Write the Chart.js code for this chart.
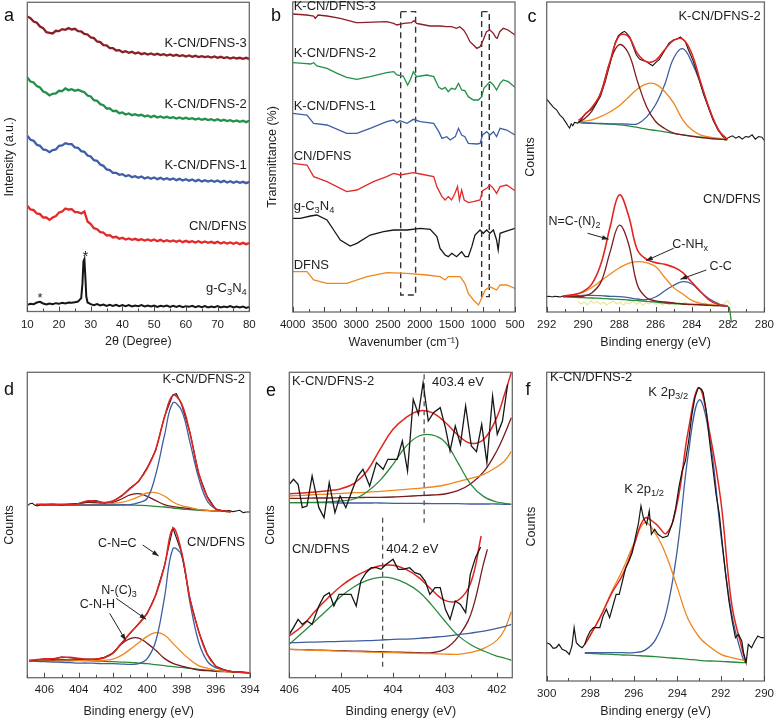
<!DOCTYPE html>
<html>
<head>
<meta charset="utf-8">
<script src="https://cdn.jsdelivr.net/npm/chart.js@4.4.1/dist/chart.umd.min.js"></script>
<style>
  html, body { margin: 0; padding: 0; background: #fff; }
  #wrap { position: relative; width: 780px; height: 722px; }
  #wrap canvas { position: absolute; left: 0; top: 0; }
</style>
</head>
<body>
<div id="wrap">
  <canvas id="ca" width="780" height="722"></canvas>
  <canvas id="cb" width="780" height="722"></canvas>
  <canvas id="cc" width="780" height="722"></canvas>
  <canvas id="cd" width="780" height="722"></canvas>
  <canvas id="ce" width="780" height="722"></canvas>
  <canvas id="cf" width="780" height="722"></canvas>
</div>
<script>
// ---- a: XRD ----
const xrdAngle = [10,11,12,13,14,15,16,17,18,19,20,21,22,23,24,25,26,27,28,29,30,31,32,33,34,35,36,37,38,39,40,41,42,43,44,45,46,47,48,49,50,51,52,53,54,55,56,57,58,59,60,61,62,63,64,65,66,67,68,69,70,71,72,73,74,75,76,77,78,79,80];
const xrdKcn3 = [885,880,870,866,855,850,838,836,834,842,841,847,845,850,846,848,841,840,833,831,822,820,810,808,799,798,790,790,783,784,778,781,776,779,774,777,772,775,771,774,770,773,769,772,768,771,767,770,766,769,765,768,764,767,763,766,763,765,762,765,761,764,760,763,759,762,759,761,758,761,758];
const xrdKcn2 = [702,690,687,676,672,660,656,648,653,654,662,661,669,664,667,662,665,661,658,648,645,634,632,622,619,609,609,601,602,595,597,591,594,589,592,588,590,585,588,583,587,582,585,581,584,580,583,579,582,578,581,577,580,576,579,575,578,574,577,573,577,572,575,571,574,570,573,569,572,568,572];
const xrdKcn1 = [527,515,512,500,497,486,484,478,484,486,497,498,505,502,502,492,491,481,479,468,465,454,452,441,437,426,424,416,416,410,412,406,409,403,406,401,405,399,403,398,402,397,401,396,400,395,399,394,398,393,397,392,396,391,395,390,394,390,393,389,393,388,392,387,391,386,390,386,389,385,389];
const xrdCn = [317,306,304,294,292,282,282,275,282,286,297,300,309,306,307,298,298,294,300,270,262,250,247,238,237,228,229,222,224,218,221,216,219,215,218,214,217,213,216,212,216,211,215,210,214,210,213,209,213,208,212,208,211,207,211,206,210,206,209,205,209,204,208,204,207,203,207,202,206,202,205];
const gcnAngle = [10,11,12,13,14,15,16,17,18,19,20,21,22,23,24,25,26,27,27.4,27.7,28,28.3,28.6,29,30,31,32,33,34,35,36,37,38,39,40,41,42,43,44,45,46,47,48,49,50,51,52,53,54,55,56,57,58,59,60,61,62,63,64,65,66,67,68,69,70,71,72,73,74,75,76,77,78,79,80];
const xrdGcn = [20,23,22,27,29,24,21,24,22,25,23,26,24,27,26,28,30,40,85,150,157,105,45,27,22,19,22,18,21,17,20,17,20,16,19,16,19,15,18,16,19,15,18,15,18,14,17,15,18,14,17,14,17,13,16,14,17,13,16,13,16,12,15,13,16,12,15,13,16,12,15,12,15,11,14];

// ---- b: FTIR ----
const irKcn3W = [4000,3780,3670,3645,3600,3460,3250,3000,2940,2520,2410,2360,2250,2130,2090,2050,2000,1840,1680,1580,1500,1420,1370,1310,1260,1210,1100,1050,1000,950,895,840,805,780,740,685,610,500];
const irKcn3T = [894,891,888,881,891,888,881,868,868,871,866,861,866,868,874,866,864,858,858,856,856,851,856,846,831,811,791,796,816,841,846,836,824,821,841,851,846,831];
const irKcn2W = [4000,3830,3720,3670,3620,3460,3300,3150,2990,2780,2520,2410,2360,2260,2190,2150,2100,2050,1890,1780,1700,1650,1600,1550,1500,1440,1390,1340,1290,1235,1155,1075,1025,990,895,840,790,735,685,605,500];
const irKcn2T = [748,746,744,748,738,731,716,704,698,706,718,721,711,708,681,696,721,706,711,706,674,668,674,661,671,668,686,666,664,646,636,636,646,671,691,681,666,686,696,691,674];
const irKcn1W = [4000,3775,3670,3460,3150,2990,2780,2520,2410,2360,2310,2200,2100,1990,1780,1700,1650,1575,1520,1440,1390,1340,1290,1235,1100,1050,1010,945,895,840,790,735,630,500];
const irKcn1T = [596,591,566,561,536,536,551,571,576,568,574,566,578,571,566,541,521,526,516,526,551,531,526,506,504,506,531,541,531,541,526,551,546,531];
const irCnW = [4000,3775,3670,3460,3150,2990,2730,2520,2410,2310,2100,1990,1780,1730,1650,1600,1550,1500,1445,1405,1375,1340,1300,1235,1155,1050,1010,945,895,840,790,735,630,500];
const irCnT = [446,441,406,391,361,366,391,406,416,411,418,414,406,376,346,336,346,336,356,376,336,366,336,328,331,336,364,371,381,371,356,376,381,364];
const irGcnW = [4000,3880,3720,3620,3460,3355,3250,3095,2990,2780,2570,2410,2200,1990,1835,1730,1680,1600,1550,1495,1420,1340,1285,1235,1180,1130,1050,1000,945,895,840,790,765,735,660,500];
const irGcnT = [281,281,288,291,276,246,216,198,206,231,241,246,246,251,248,226,191,171,166,176,166,181,166,166,196,231,246,236,246,236,246,216,186,236,241,251];
const irDfnsW = [4000,3775,3670,3460,3150,2830,2520,2200,1890,1680,1600,1550,1365,1290,1235,1155,1075,1025,970,895,840,790,735,630,500];
const irDfnsT = [121,121,96,86,86,106,118,116,111,106,96,106,106,86,56,36,21,41,66,76,71,66,81,81,71];
const box1W = [2300,2065,2065,2300,2300];
const box1T = [901,901,51,51,901];
const box2W = [1025,905,905,1025,1025];
const box2T = [901,901,46,46,901];

// ---- c: C 1s ----
const c2RawE = [292.0,291.82,291.64,291.46,291.28,291.1,290.92,290.83,290.74,290.65,290.56,290.47,290.29,290.11,289.84,289.57,289.31,289.04,288.77,288.5,288.23,288.05,287.87,287.72,287.6,287.42,287.24,287.06,286.88,286.7,286.52,286.34,286.16,285.98,285.8,285.53,285.26,285.0,284.81,284.63,284.51,284.37,284.19,283.92,283.65,283.38,283.11,282.84,282.57,282.3,282.12,281.94,281.76,281.58,281.4,281.22,281.04,280.86,280.68,280.5,280.32,280.14,280.0];
const c2Raw = [638,626,614,606,591,581,566,558,551,564,558,568,566,576,596,606,621,646,691,746,806,828,836,841,836,824,796,771,758,754,751,744,738,748,756,781,806,816,818,824,818,811,786,751,706,656,616,576,546,526,518,524,528,521,526,518,526,524,531,518,526,524,514];
const c2E = [290.25,290,289.5,289,288.5,288,287.5,287,286.5,286,285.5,285,284.5,284,283.5,283,282.5,282.05];
const c2Fit = [574,586,614,658,753,828,826,775,750,754,786,814,818,774,686,604,543,517];
const c2NC = [569,576,603,661,751,801,776,692,616,571,550,536,531,526,523,520,518,516];
const c2NH = [568,571,576,586,600,618,643,668,684,683,661,626,576,546,530,524,520,516];
const c2CC = [568,567,566,565,564,564,563,564,584,621,681,761,789,748,681,603,544,517];
const c2Base = [568,567,565,564,563,561,558,553,548,544,540,535,531,527,524,521,518,516];
const c1RawE = [292,291.85,291.7,291.55,291.4,291.25,291.1];
const c1Raw = [46,47,45,47,46,45,48];
const c1E = [291.1,290.5,290,289.5,289,288.5,288,287.5,287,286.5,286,285.5,285,284.5,284,283.5,283,282.5,282.05];
const c1Fit = [48,52,61,85,146,256,351,291,186,158,148,143,134,118,89,60,34,22,18];
const c1NC = [46,47,47,58,91,181,260,206,81,43,33,30,27,24,23,22,20,19,18];
const c1NH = [46,52,59,74,94,114,132,146,151,148,136,104,73,54,35,26,22,20,18];
const c1CC = [46,48,50,50,49,47,46,43,39,37,45,63,80,91,84,59,38,24,18];
const c1Base = [46,44,43,42,41,39,38,36,34,32,30,27,25,24,22,21,20,19,18];
const c1DropE = [282.05,281.92,281.82];
const c1Drop = [18,12,-32];
const c1NoiseE = [290.29,290.11,289.93,289.75,289.57,289.4,289.22,289.04,288.86,288.68,288.5,288.32,288.14,287.96,287.78,287.6,287.42,287.24,287.06,286.88,286.7,286.52,286.34,286.16,285.98,285.8,285.62,285.44,285.26,285.08,284.9,284.72,284.55,284.37,284.19,284.01,283.83,283.65,283.47,283.29,283.11,282.93,282.75,282.57,282.39,282.21,282.03,281.85];
const c1Noise = [31,24,30,21,34,26,32,23,30,21,28,33,24,30,21,28,24,32,23,29,20,28,24,31,22,29,20,27,23,30,21,28,23,30,20,27,16,31,21,28,18,26,24,31,18,26,34,21];

// ---- d: N 1s ----
const d2RawE = [406.95,406.85,406.7,406.55,406.4,406.2,406,405.5,405,404.5,404,403.5,403,402.5,402,401.5,401,400.5,400,399.5,399,398.5,398.3,398,397.5,397,396.5,396,395.5,395.2,395,394.8,394.6,394.4,394.2,394.0];
const d2Raw = [515,520,521,515,513,518,517,519,516,519,521,527,529,522,528,542,567,586,628,680,780,847,850,818,733,610,542,503,497,499,496,498,500,493,495,495];
const d2E = [406.5,406,405.5,405,404.5,404,403.5,403,402.5,402,401.5,401,400.5,400,399.5,399,398.5,398,397.5,397,396.5,396,395.5,395.1];
const d2Fit = [518,518,518,518,518,520,528,527,523,528,544,565,588,626,683,778,845,820,730,613,540,505,498,496];
const d2CNC = [516,516,516,516,516,516,516,516,516,516,517,517,523,536,608,723,822,800,703,598,528,504,498,496];
const d2NC3 = [516,516,516,517,517,517,517,518,519,521,524,531,541,552,553,543,525,514,508,502,500,498,497,496];
const d2CNH = [516,516,516,517,518,519,524,523,520,524,534,546,550,542,529,517,511,508,505,502,500,498,497,496];
const d2Base = [516,516,516,516,516,516,516,516,516,516,516,516,515,514,512,510,507,504,502,500,499,498,497,496];
const d1E = [406.9,406.5,406,405.5,405,404.5,404,403.5,403,402.5,402,401.5,401,400.5,400,399.5,399,398.5,398,397.5,397,396.5,396,395.5,395,394.5,394];
const d1Raw = [49,51,55,53,60,58,55,54,53,59,71,102,131,160,190,247,333,447,374,234,137,69,32,22,15,15,12];
const d1Fit = [50,52,54,55,59,59,56,53,54,58,72,101,132,159,192,246,331,446,376,233,138,68,33,21,16,14,13];
const d1CNC = [48,47,46,45,44,43,42,42,41,40,40,39,38,40,55,108,236,385,365,222,106,48,28,21,16,14,13];
const d1NC3 = [48,48,48,48,48,48,49,49,49,50,54,65,83,103,122,133,126,101,75,52,34,27,20,17,15,14,13];
const d1CNH = [48,48,49,50,51,51,52,52,53,58,73,99,115,117,101,80,56,41,33,27,21,19,17,16,15,14,13];
const d1Base = [48,49,50,51,52,51,50,49,48,47,46,45,44,42,40,37,34,31,29,26,23,21,19,18,16,14,13];

// ---- e: N 1s, high energy side ----
const e2RawE = [406.0,405.92,405.83,405.75,405.66,405.56,405.43,405.33,405.23,405.12,405.02,404.91,404.78,404.68,404.58,404.45,404.32,404.19,404.1,404.0,403.92,403.82,403.72,403.61,403.51,403.42,403.32,403.22,403.09,402.99,402.9,402.8,402.7,402.6,402.49,402.39,402.29,402.19,402.08,401.99,401.89,401.79];
const e2Raw = [578,593,578,508,513,603,508,478,583,493,543,508,563,603,623,573,643,623,653,653,653,708,618,833,788,883,768,793,808,748,678,753,698,813,693,676,758,643,843,728,768,878];
const eE = [406,405.75,405.5,405.25,405,404.75,404.5,404.25,404,403.75,403.5,403.25,403,402.75,402.5,402.25,402,401.85,401.72];
const e2Fit = [550,552,555,559,565,581,618,683,743,778,798,793,765,726,701,713,778,848,913];
const e2Peak = [523,523,524,525,528,534,556,590,638,692,723,726,705,643,578,541,525,521,518];
const e2Orange = [543,545,547,549,551,553,554,557,560,563,566,570,576,586,596,608,630,648,676];
const e2Brown = [536,536,537,537,538,538,539,539,540,542,544,546,549,559,580,616,678,728,778];
const e2Blue = [523,523,523,523,522,522,522,522,521,521,521,520,520,520,519,519,519,518,518];
const e1RawE = [406.0,405.92,405.83,405.75,405.66,405.56,405.43,405.33,405.23,405.14,405.04,404.91,404.81,404.71,404.62,404.52,404.42,404.32,404.23,404.13,404.0,403.9,403.81,403.68,403.58,403.48,403.38,403.29,403.19,403.09,402.99,402.9,402.8,402.7,402.6,402.51,402.41,402.31];
const e1Raw = [128,148,173,158,168,158,213,243,253,213,248,248,248,213,288,313,328,328,323,338,353,323,323,328,313,308,288,248,268,268,203,173,228,218,193,308,358,390];
const e1FitE = [406,405.75,405.5,405.25,405,404.75,404.5,404.25,404,403.75,403.5,403.25,403,402.75,402.5,402.3];
const e1Fit = [123,153,198,238,273,300,320,334,335,323,298,261,230,230,283,423];
const e1Peak = [98,133,168,204,242,271,290,299,296,281,256,215,168,125,97,78,63,57,50];
const e1Blue = [103,104,105,106,107,108,109,111,113,114,116,119,122,127,132,138,146,151,158];
const e1Orange = [83,82,80,79,78,76,75,74,73,72,71,70,69,68,74,86,110,142,196];
const e1BrownE = [406,405.75,405.5,405.25,405,404.75,404.5,404.25,404,403.75,403.5,403.25,403,402.75,402.5,402.25,402.18];
const e1Brown = [83,82,81,80,79,78,77,76,75,74,73,73,84,120,188,343,383];
const eMark2E = [403.4,403.4];
const eMark2Y = [908,463];
const eMark1E = [404.2,404.2];
const eMark1Y = [478,28];

// ---- f: K 2p ----
const fRawE = [300,299.85,299.7,299.56,299.44,299.29,299.11,298.96,298.84,298.74,298.64,298.49,298.37,298.25,298.15,298,297.85,297.7,297.56,297.41,297.26,297.11,296.96,296.81,296.67,296.52,296.37,296.22,296.07,295.93,295.78,295.67,295.56,295.41,295.29,295.19,295.04,294.89,294.67,294.44,294.22,294.07,293.93,293.78,293.63,293.48,293.33,293.19,293.04,292.89,292.81,292.67,292.52,292.37,292.22,292.07,291.93,291.78,291.63,291.48,291.33,291.19,291.04,290.96,290.84,290.74,290.59,290.44,290.3,290.15,290];
const fRaw = [115,110,98,100,110,95,90,80,105,160,115,105,100,110,130,150,160,160,160,195,215,190,225,260,260,300,340,360,385,430,475,525,490,470,510,440,455,440,430,435,475,520,580,630,660,720,800,850,880,875,865,810,720,640,560,500,410,320,240,180,130,140,120,85,55,110,100,120,135,130,130];
const fE = [298.25,298,297.5,297,296.5,296,295.5,295,294.5,294,293.5,293,292.5,292,291.5,291,290.85];
const fFit = [110,137,197,265,320,405,488,472,443,535,750,880,740,540,230,90,55];
const f2p12 = [110,137,197,270,335,412,475,442,375,280,185,132,102,80,70,63,62];
const f2p32 = [85,85,85,85,85,85,92,124,208,395,680,843,725,440,200,70,55];
const fBase = [83,83,81,80,78,77,75,73,70,68,65,62,60,59,57,55,55];

const FONT = "'Liberation Sans', Arial, Helvetica, sans-serif";
const INK = '#1e1e1e';
const COL = {
  black: '#161616', red: '#e1241f', brown: '#7c1b1d', orange: '#f0871d',
  blue: '#3f5e9f', green: '#2a8a3c', yellow: 'rgba(228,220,110,0.75)', dark: '#444'
};

function pts(xs, ys) {
  return xs.map((x, i) => ({ x: x, y: ys[i] }));
}

function line(xs, ys, color, width, extra) {
  return Object.assign({
    data: pts(xs, ys),
    borderColor: color,
    borderWidth: width || 1.2,
    pointRadius: 0,
    fill: false,
    tension: 0
  }, extra || {});
}

function smooth(xs, ys, color, width) {
  return line(xs, ys, color, width || 1.3, { tension: 0.4 });
}

function drawRich(ctx, parts, x, y, size, align, color) {
  let w = 0;
  parts.forEach(p => {
    ctx.font = (p[1] ? size * 0.72 : size) + 'px ' + FONT;
    w += ctx.measureText(p[0]).width;
  });
  let cx = align === 'right' ? x - w : (align === 'center' ? x - w / 2 : x);
  ctx.fillStyle = color;
  ctx.textBaseline = 'middle';
  ctx.textAlign = 'left';
  parts.forEach(p => {
    const s = p[1] ? size * 0.72 : size;
    ctx.font = s + 'px ' + FONT;
    const dy = p[1] === 1 ? size * 0.3 : (p[1] === 2 ? -size * 0.35 : 0);
    ctx.fillText(p[0], cx, y + dy);
    cx += ctx.measureText(p[0]).width;
  });
}

// frame, inward ticks, labels, arrows
const decor = {
  id: 'decor',
  afterDraw(chart, args, o) {
    const ctx = chart.ctx;
    const a = chart.chartArea;
    const sx = chart.scales.x, sy = chart.scales.y;
    ctx.save();
    ctx.strokeStyle = '#6a6a6a';
    ctx.lineWidth = 1.3;
    ctx.strokeRect(a.left, a.top, a.right - a.left, a.bottom - a.top);

    ctx.strokeStyle = '#4a4a4a';
    ctx.lineWidth = 1;
    ctx.beginPath();
    const n = Math.round((o.tickTo - o.tickFrom) / o.minor);
    for (let i = 0; i <= n; i++) {
      const px = Math.round(sx.getPixelForValue(o.tickFrom + i * o.minor)) + 0.5;
      const len = i % o.every === 0 ? 5 : 3;
      ctx.moveTo(px, a.bottom);
      ctx.lineTo(px, a.bottom - len);
    }
    ctx.stroke();

    (o.arrows || []).forEach(ar => {
      const x1 = sx.getPixelForValue(ar[0]), y1 = sy.getPixelForValue(ar[1]);
      const x2 = sx.getPixelForValue(ar[2]), y2 = sy.getPixelForValue(ar[3]);
      const ang = Math.atan2(y2 - y1, x2 - x1);
      ctx.strokeStyle = '#222';
      ctx.fillStyle = '#222';
      ctx.lineWidth = 1;
      ctx.beginPath();
      ctx.moveTo(x1, y1);
      ctx.lineTo(x2, y2);
      ctx.stroke();
      ctx.beginPath();
      ctx.moveTo(x2, y2);
      ctx.lineTo(x2 - 7 * Math.cos(ang - 0.35), y2 - 7 * Math.sin(ang - 0.35));
      ctx.lineTo(x2 - 7 * Math.cos(ang + 0.35), y2 - 7 * Math.sin(ang + 0.35));
      ctx.closePath();
      ctx.fill();
    });

    (o.texts || []).forEach(t => {
      drawRich(ctx, t.s, sx.getPixelForValue(t.x), sy.getPixelForValue(t.y),
        t.size || 13, t.align || 'left', INK);
    });

    if (o.letter) {
      drawRich(ctx, [[o.letter[0], 0]], o.letter[1], o.letter[2], 18, 'center', '#111');
    }
    ctx.restore();
  }
};

function panel(id, o) {
  return new Chart(document.getElementById(id), {
    type: 'line',
    data: { datasets: o.datasets },
    options: {
      responsive: false,
      animation: false,
      events: [],
      layout: { padding: o.pad },
      plugins: {
        legend: { display: false },
        tooltip: { enabled: false },
        decor: o.decor
      },
      scales: {
        x: {
          type: 'linear',
          min: o.xMin,
          max: o.xMax,
          reverse: !!o.reverse,
          ticks: {
            stepSize: o.step,
            includeBounds: false,
            autoSkip: false,
            maxRotation: 0,
            padding: o.tickPad,
            color: INK,
            font: { family: FONT, size: 11.5 },
            callback: v => String(v)
          },
          grid: { display: false, drawTicks: false },
          border: { display: false },
          title: { display: true, text: o.xTitle, color: INK, font: { family: FONT, size: 12.5 }, padding: 0 },
          afterFit: s => { s.height = o.xH; }
        },
        y: {
          min: o.yMin || 0,
          max: o.yMax,
          ticks: { display: false },
          grid: { display: false, drawTicks: false },
          border: { display: false },
          title: { display: true, text: o.yTitle, color: INK, font: { family: FONT, size: 12.5 }, padding: 0 },
          afterFit: s => { s.width = o.yW; }
        }
      }
    },
    plugins: [decor]
  });
}

// a
panel('ca', {
  pad: { left: 2.5, right: 530.7, top: 2.3, bottom: 372.5 },
  yW: 24.8, xH: 38, tickPad: 6,
  xMin: 10, xMax: 80, step: 10, yMax: 927.5,
  xTitle: '2\u03b8 (Degree)', yTitle: 'Intensity (a.u.)',
  datasets: [
    line(xrdAngle, xrdKcn3, '#8a1f27', 2.3),
    line(xrdAngle, xrdKcn2, '#22904a', 2.3),
    line(xrdAngle, xrdKcn1, '#3f5ea8', 2.3),
    line(xrdAngle, xrdCn, '#e22a2a', 2.3),
    line(gcnAngle, xrdGcn, COL.black, 2)
  ],
  decor: {
    tickFrom: 10, tickTo: 80, minor: 5, every: 2, letter: ['a', 9, 16],
    texts: [
      { x: 79.2, y: 805, s: [['K-CN/DFNS-3', 0]], align: 'right' },
      { x: 79.2, y: 620, s: [['K-CN/DFNS-2', 0]], align: 'right' },
      { x: 79.2, y: 438, s: [['K-CN/DFNS-1', 0]], align: 'right' },
      { x: 79.2, y: 255, s: [['CN/DFNS', 0]], align: 'right' },
      { x: 79.2, y: 68, s: [['g-C', 0], ['3', 1], ['N', 0], ['4', 1]], align: 'right' },
      { x: 28.3, y: 164, s: [['*', 0]], align: 'center', size: 15 },
      { x: 14, y: 38, s: [['*', 0]], align: 'center', size: 13 }
    ]
  }
});

// b
panel('cb', {
  pad: { left: 264.8, right: 265, top: 2, bottom: 372 },
  yW: 27.9, xH: 38, tickPad: 6,
  xMin: 500, xMax: 4000, step: 500, reverse: true, yMax: 930,
  xTitle: 'Wavenumber (cm\u207b\u00b9)', yTitle: 'Transmittance (%)',
  datasets: [
    line(irKcn3W, irKcn3T, '#8a1f27', 1.3),
    line(irKcn2W, irKcn2T, '#22904a', 1.3),
    line(irKcn1W, irKcn1T, '#3f5ea8', 1.3),
    line(irCnW, irCnT, '#e22a2a', 1.3),
    line(irGcnW, irGcnT, COL.black, 1.3),
    line(irDfnsW, irDfnsT, COL.orange, 1.3),
    line(box1W, box1T, '#333', 1.4, { borderDash: [6, 4] }),
    line(box2W, box2T, '#333', 1.4, { borderDash: [6, 4] })
  ],
  decor: {
    tickFrom: 500, tickTo: 4000, minor: 250, every: 2, letter: ['b', 276, 16],
    texts: [
      { x: 3985, y: 918, s: [['K-CN/DFNS-3', 0]] },
      { x: 3985, y: 776, s: [['K-CN/DFNS-2', 0]] },
      { x: 3985, y: 616, s: [['K-CN/DFNS-1', 0]] },
      { x: 3985, y: 466, s: [['CN/DFNS', 0]] },
      { x: 3985, y: 316, s: [['g-C', 0], ['3', 1], ['N', 0], ['4', 1]] },
      { x: 3985, y: 141, s: [['DFNS', 0]] }
    ]
  }
});

// c
panel('cc', {
  pad: { left: 523.5, right: 11.7, top: 2, bottom: 372 },
  yW: 23.2, xH: 38, tickPad: 6,
  xMin: 280, xMax: 292, step: 2, reverse: true, yMax: 929,
  xTitle: 'Binding energy (eV)', yTitle: 'Counts',
  datasets: [
    smooth(c2E, c2Fit, COL.red, 1.6),
    line(c2RawE, c2Raw, COL.black, 1.1),
    smooth(c2E, c2NC, COL.brown),
    smooth(c2E, c2NH, COL.orange),
    smooth(c2E, c2CC, COL.blue),
    smooth(c2E, c2Base, COL.green),
    smooth(c1E, c1Fit, COL.red, 1.6),
    line(c1RawE, c1Raw, COL.black, 1.1),
    smooth(c1E, c1NC, COL.brown),
    smooth(c1E, c1NH, COL.orange),
    smooth(c1E, c1CC, COL.blue),
    smooth(c1E, c1Base, COL.green),
    line(c1DropE, c1Drop, COL.green, 1.3, { clip: false }),
    line(c1NoiseE, c1Noise, COL.yellow, 1.1)
  ],
  decor: {
    tickFrom: 280, tickTo: 292, minor: 1, every: 2, letter: ['c', 532, 17],
    texts: [
      { x: 280.2, y: 886, s: [['K-CN/DFNS-2', 0]], align: 'right' },
      { x: 280.2, y: 336, s: [['CN/DFNS', 0]], align: 'right' },
      { x: 291.9, y: 271, s: [['N=C-(N)', 0], ['2', 1]], size: 12.5 },
      { x: 285.08, y: 201, s: [['C-NH', 0], ['x', 1]], size: 12.5 },
      { x: 283.02, y: 136, s: [['C-C', 0]], size: 12.5 }
    ],
    arrows: [
      [289.75, 236, 288.59, 218],
      [285.0, 191, 286.52, 154],
      [283.2, 126, 284.63, 98]
    ]
  }
});

// d
panel('cd', {
  pad: { left: 2.5, right: 530, top: 372.3, bottom: 2.5 },
  yW: 24.8, xH: 41.8, tickPad: 5,
  xMin: 394, xMax: 407, step: 2, reverse: true, yMin: -2, yMax: 914,
  xTitle: 'Binding energy (eV)', yTitle: 'Counts',
  datasets: [
    smooth(d2E, d2Fit, COL.red, 1.6),
    line(d2RawE, d2Raw, COL.black, 1.1),
    smooth(d2E, d2CNC, COL.blue),
    smooth(d2E, d2NC3, COL.orange),
    smooth(d2E, d2CNH, COL.brown),
    smooth(d2E, d2Base, COL.green),
    smooth(d1E, d1Fit, COL.red, 1.6),
    line(d1E, d1Raw, COL.black, 1.1),
    smooth(d1E, d1CNC, COL.blue),
    smooth(d1E, d1NC3, COL.orange),
    smooth(d1E, d1CNH, COL.brown),
    smooth(d1E, d1Base, COL.green)
  ],
  decor: {
    tickFrom: 394, tickTo: 407, minor: 1, every: 2, letter: ['d', 9, 390],
    texts: [
      { x: 394.3, y: 893, s: [['K-CN/DFNS-2', 0]], align: 'right' },
      { x: 394.3, y: 403, s: [['CN/DFNS', 0]], align: 'right' },
      { x: 402.87, y: 400, s: [['C-N=C', 0]], size: 12.5 },
      { x: 402.68, y: 260, s: [['N-(C)', 0], ['3', 1]], size: 12.5 },
      { x: 403.94, y: 218, s: [['C-N-H', 0]], size: 12.5 }
    ],
    arrows: [
      [400.26, 396, 399.33, 363],
      [401.81, 236, 400.06, 173],
      [402.19, 191, 401.26, 110]
    ]
  }
});

// e
panel('ce', {
  pad: { left: 263, right: 267.7, top: 372.3, bottom: 2.5 },
  yW: 26.3, xH: 41.8, tickPad: 5,
  xMin: 401.7, xMax: 406, step: 1, reverse: true, yMin: -2, yMax: 914,
  xTitle: 'Binding energy (eV)', yTitle: 'Counts',
  datasets: [
    line(e2RawE, e2Raw, COL.black, 1.3),
    smooth(eE, e2Fit, COL.red, 1.5),
    smooth(eE, e2Peak, COL.green),
    smooth(eE, e2Orange, COL.orange),
    smooth(eE, e2Brown, COL.brown),
    smooth(eE, e2Blue, COL.blue),
    line(e1RawE, e1Raw, COL.black, 1.3),
    smooth(e1FitE, e1Fit, COL.red, 1.5),
    smooth(eE, e1Peak, COL.green),
    smooth(eE, e1Blue, COL.blue),
    smooth(eE, e1Orange, COL.orange),
    smooth(e1BrownE, e1Brown, COL.brown),
    line(eMark2E, eMark2Y, COL.dark, 1.2, { borderDash: [5, 4] }),
    line(eMark1E, eMark1Y, COL.dark, 1.2, { borderDash: [5, 4] })
  ],
  decor: {
    tickFrom: 402, tickTo: 406, minor: 0.5, every: 2, letter: ['e', 271, 391],
    texts: [
      { x: 405.95, y: 888, s: [['K-CN/DFNS-2', 0]] },
      { x: 403.25, y: 883, s: [['403.4 eV', 0]] },
      { x: 405.95, y: 383, s: [['CN/DFNS', 0]] },
      { x: 404.13, y: 383, s: [['404.2 eV', 0]] }
    ]
  }
});

// f
panel('cf', {
  pad: { left: 524.5, right: 11.7, top: 372.3, bottom: 2.8 },
  yW: 22.2, xH: 38.2, tickPad: 6,
  xMin: 290, xMax: 300, step: 2, reverse: true, yMax: 926,
  xTitle: 'Binding energy (eV)', yTitle: 'Counts',
  datasets: [
    line(fRawE, fRaw, COL.black, 1.2),
    smooth(fE, fFit, COL.red, 1.5),
    smooth(fE, f2p12, COL.orange),
    smooth(fE, f2p32, COL.blue),
    smooth(fE, fBase, COL.green)
  ],
  decor: {
    tickFrom: 290, tickTo: 300, minor: 1, every: 2, letter: ['f', 528, 390],
    texts: [
      { x: 299.85, y: 910, s: [['K-CN/DFNS-2', 0]] },
      { x: 295.33, y: 865, s: [['K 2p', 0], ['3/2', 1]] },
      { x: 296.44, y: 575, s: [['K 2p', 0], ['1/2', 1]] }
    ]
  }
});
</script>
</body>
</html>
